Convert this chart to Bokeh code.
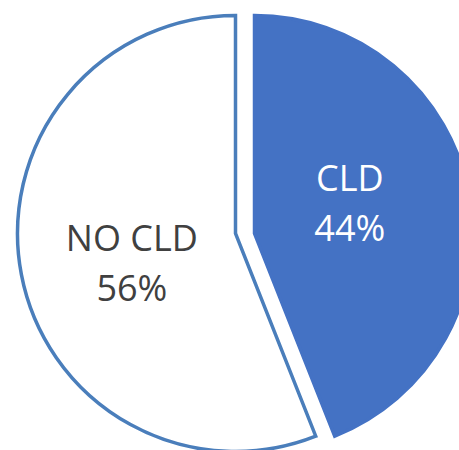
import math
from bokeh.plotting import figure
from bokeh.models import Range1d
from bokeh.core.properties import value
from bokeh.embed import file_html
from bokeh.resources import INLINE

# data
categories = ["CLD", "NO CLD"]
shares = [44, 56]
pct_labels = ["44%", "56%"]

# style / layout
W, H = 459, 450
fills = ["#4472C4", "#FFFFFF"]
lines = ["#4472C4", "#4A7EBB"]
text_colors = ["#FFFFFF", "#404040"]
R = 218
base_cx, base_cy = 235, 217
explode = [19, 0]          # horizontal explode offset in px
label_r = [0.445, 0.484]   # label distance as fraction of radius along bisector
label_dy = [13, -9]

p = figure(width=W, height=H, output_backend="svg", toolbar_location=None,
           x_range=Range1d(0, W), y_range=Range1d(0, H), min_border=0)
p.axis.visible = False
p.grid.visible = False
p.outline_line_color = None
p.background_fill_color = "white"
p.border_fill_color = "white"

total = sum(shares)
start = math.pi / 2
for i, (cat, v) in enumerate(zip(categories, shares)):
    sweep = 2 * math.pi * v / total
    end = start - sweep
    cx = base_cx + explode[i]
    cy = base_cy
    p.wedge(x=[cx], y=[cy], radius=R, start_angle=end, end_angle=start,
            fill_color=fills[i], line_color=lines[i], line_width=3.5,
            line_join="miter")
    mid = (start + end) / 2
    lx = cx + label_r[i] * R * math.cos(mid)
    ly = cy + label_r[i] * R * math.sin(mid) + label_dy[i]
    p.text(x=[lx], y=[ly], text=[cat], text_align="center", text_baseline="middle",
           text_font=value("Open Sans"), text_font_size="36px", text_color=text_colors[i],
           y_offset=-25)
    p.text(x=[lx], y=[ly], text=[pct_labels[i]], text_align="center", text_baseline="middle",
           text_font=value("Open Sans"), text_font_size="36px", text_color=text_colors[i],
           y_offset=25)
    start = end

open("out.html", "w").write(file_html(p, INLINE))
